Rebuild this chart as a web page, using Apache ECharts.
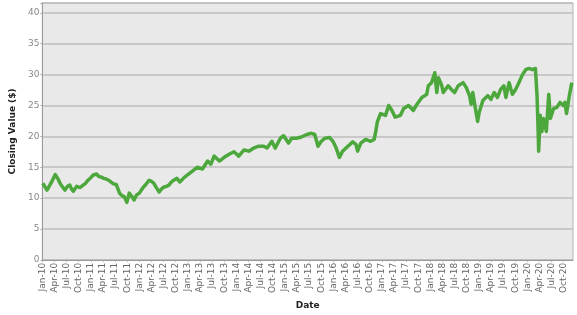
<!DOCTYPE html>
<html>
<head>
<meta charset="utf-8">
<script src="https://cdn.jsdelivr.net/npm/echarts@6/dist/echarts.min.js"></script>
<style>html,body{margin:0;padding:0;background:#fff;}#c{width:577px;height:315px;}</style>
</head>
<body>
<div id="c"></div>
<script>
// months elapsed since 1 Jan 2010
const monthsSinceJan2010 = [0.1,0.3,1.15,2.2,3.2,3.8,4.4,5.0,5.6,6.2,6.8,7.2,7.65,8.5,9.3,10.1,10.7,11.3,12.0,12.5,13.4,14.0,14.6,15.2,15.8,16.4,17.0,17.6,18.3,18.7,19.1,19.7,20.3,20.9,21.5,22.1,22.7,23.3,24.0,24.8,25.6,26.4,27.0,27.6,28.2,28.9,29.5,30.1,30.7,31.3,31.9,32.5,33.3,34.0,35.2,36.8,38.4,39.6,40.9,41.7,42.5,43.8,45.0,46.2,47.4,48.6,49.9,51.1,52.3,53.5,54.8,55.6,56.8,57.6,58.9,59.7,60.9,61.7,62.9,64.1,65.4,66.6,67.4,68.2,69.0,69.9,71.1,71.9,72.7,73.5,74.3,75.6,76.8,77.6,78.0,78.8,80.0,81.2,82.1,82.5,82.9,83.7,84.9,85.7,86.5,87.3,88.6,89.4,90.6,91.8,92.7,93.9,95.1,95.5,96.3,97.1,97.6,98.0,98.8,99.2,99.6,100.4,101.2,102.0,102.9,104.1,104.9,105.7,106.1,106.5,106.9,107.3,107.7,108.1,109.0,110.2,111.0,111.8,112.6,113.4,114.2,114.7,115.5,116.3,117.1,117.9,118.8,119.6,120.4,121.2,122.0,122.4,122.7,122.8,123.2,123.6,124.0,124.7,125.3,125.7,126.5,127.3,128.1,128.9,129.3,129.7,130.4,131.0];
const closingValues = [12.4,12.35,11.3,12.5,13.8,13.2,12.35,11.8,11.3,11.9,12.1,11.5,11.1,11.9,11.7,12.1,12.4,12.9,13.3,13.7,13.9,13.5,13.4,13.2,13.1,12.9,12.6,12.3,12.2,12.4,10.8,10.4,10.2,9.3,10.8,10.3,9.7,10.5,10.8,11.6,12.2,12.9,12.7,12.4,11.7,11.0,11.5,11.8,11.9,12.1,12.6,12.9,13.2,12.6,13.4,14.2,15.0,14.7,16.0,15.5,16.8,16.0,16.6,17.1,17.5,16.8,17.8,17.6,18.1,18.4,18.4,18.1,19.2,18.1,19.7,20.1,18.9,19.7,19.7,19.9,20.3,20.5,20.3,18.4,19.2,19.7,19.8,19.2,18.1,16.6,17.6,18.4,19.1,18.7,17.6,18.9,19.5,19.2,19.5,20.8,22.4,23.7,23.4,25.0,24.2,23.1,23.4,24.5,25.0,24.2,25.2,26.3,26.8,28.2,28.7,30.3,27.1,29.5,28.3,27.1,27.1,28.2,27.6,27.1,28.2,28.7,27.9,26.6,25.2,27.1,25.5,25.8,22.4,23.9,25.8,26.6,26.0,27.1,26.3,27.6,28.2,26.3,28.7,26.8,27.6,28.7,30.0,30.8,31.0,30.8,31.0,26.6,20.3,17.6,23.4,20.8,22.9,20.8,26.8,22.9,24.5,24.7,25.5,25.0,25.5,23.7,26.6,28.7];
const xTickLabels = ['Jan-10','Apr-10','Jul-10','Oct-10','Jan-11','Apr-11','Jul-11','Oct-11','Jan-12','Apr-12','Jul-12','Oct-12','Jan-13','Apr-13','Jul-13','Oct-13','Jan-14','Apr-14','Jul-14','Oct-14','Jan-15','Apr-15','Jul-15','Oct-15','Jan-16','Apr-16','Jul-16','Oct-16','Jan-17','Apr-17','Jul-17','Oct-17','Jan-18','Apr-18','Jul-18','Oct-18','Jan-19','Apr-19','Jul-19','Oct-19','Jan-20','Apr-20','Jul-20','Oct-20'];
const yTickValues = [0,5,10,15,20,25,30,35,40];

const seriesData = monthsSinceJan2010.map((m, i) => [m, closingValues[i]]);

const chart = echarts.init(document.getElementById('c'), null, {renderer: 'canvas'});
chart.setOption({
  animation: false,
  backgroundColor: '#ffffff',
  grid: {
    left: 36, right: 4, top: 3, bottom: 48.5,
    show: true, backgroundColor: '#e9e9e9', borderColor: '#b5b5b5', borderWidth: 1
  },
  xAxis: {
    type: 'value', min: 0, max: 131.3, interval: 3,
    name: 'Date', nameLocation: 'middle', nameGap: 34,
    nameTextStyle: {fontFamily: 'DejaVu Sans', fontWeight: 'bold', fontSize: 9, color: '#222'},
    axisLine: {show: true, lineStyle: {color: '#999', width: 1}},
    axisTick: {show: true, length: 2, lineStyle: {color: '#aaa'}},
    splitLine: {show: false},
    axisLabel: {
      rotate: 90, margin: 3, fontFamily: 'DejaVu Sans', fontSize: 9, color: '#666',
      showMaxLabel: false,
      formatter: v => {
        const k = Math.round(v / 3);
        return Math.abs(v - k * 3) < 1e-6 && k < xTickLabels.length ? xTickLabels[k] : '';
      }
    }
  },
  yAxis: {
    type: 'value', min: 0, max: 41.6, interval: 5,
    name: 'Closing Value ($)', nameLocation: 'middle', nameGap: 20, nameRotate: 90,
    nameTextStyle: {fontFamily: 'DejaVu Sans', fontWeight: 'bold', fontSize: 9, color: '#222'},
    axisLine: {show: true, lineStyle: {color: '#999', width: 1}},
    axisTick: {show: true, length: 2, lineStyle: {color: '#aaa'}},
    splitLine: {show: true, lineStyle: {color: '#bdbdbd', width: 1.5}},
    axisLabel: {
      margin: 3, fontFamily: 'DejaVu Sans', fontSize: 9, color: '#888',
      formatter: v => yTickValues.indexOf(Math.round(v * 1000) / 1000) >= 0 ? String(v) : ''
    }
  },
  series: [{
    type: 'line', data: seriesData, showSymbol: false, smooth: false,
    lineStyle: {color: '#4ca83c', width: 3.5, join: 'round'},
    itemStyle: {color: '#4ca83c'}
  }]
});
</script>
</body>
</html>
